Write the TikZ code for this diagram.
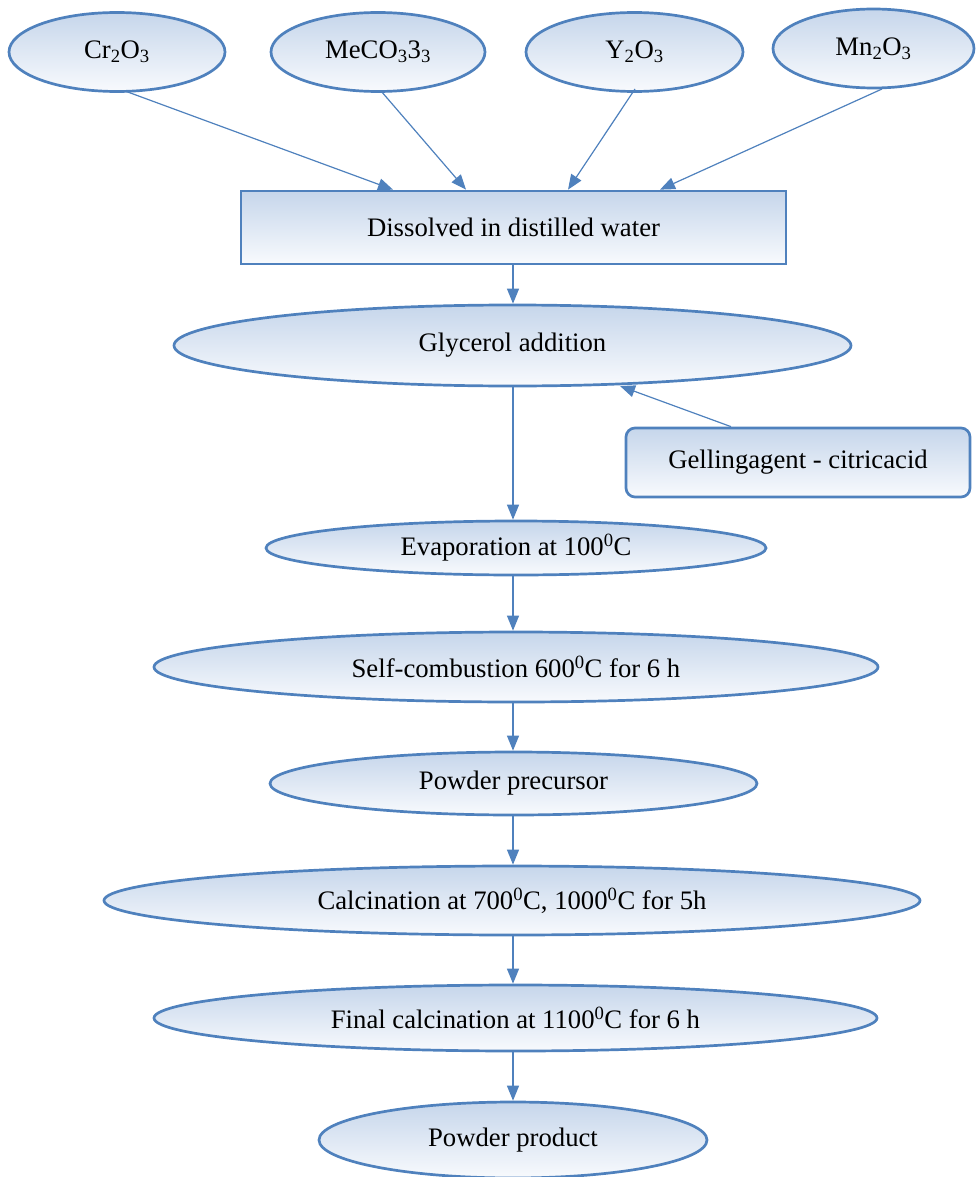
\documentclass[tikz,border=0pt]{standalone}
\usepackage{fontspec}
\setmainfont{Liberation Serif}
\usetikzlibrary{shapes.geometric,arrows.meta,calc}
\definecolor{edgeblue}{HTML}{4F81BD}
\definecolor{topfill}{HTML}{C6D6EB}
\definecolor{botfill}{HTML}{F8FAFD}
\tikzset{
  base/.style={draw=edgeblue, line width=2.7pt, top color=topfill, bottom color=botfill,
    inner sep=0pt, font=\fontsize{26.7}{30}\selectfont},
  oval/.style={base, ellipse},
  box/.style={base, rectangle},
  rbox/.style={base, rectangle, rounded corners=9pt},
  arr/.style={draw=edgeblue, line width=1.2pt, -{Triangle[length=15pt,width=12pt]}}
}
\begin{document}
\begin{tikzpicture}[x=1pt,y=-1pt]
\useasboundingbox (0,0) rectangle (975,1177);
% sources
\node[oval, minimum width=216pt, minimum height=79pt] (cr) at (117,52) {Cr\textsubscript{2}O\textsubscript{3}};
\node[oval, minimum width=214pt, minimum height=79pt] (me) at (378,52) {MeCO\textsubscript{3}3\textsubscript{3}};
\node[oval, minimum width=217pt, minimum height=79pt] (yo) at (634.5,52) {Y\textsubscript{2}O\textsubscript{3}};
\node[oval, minimum width=201pt, minimum height=79pt] (mn) at (873.5,48.5) {Mn\textsubscript{2}O\textsubscript{3}};
% main chain
\node[box, minimum width=545pt, minimum height=73pt] (dis) at (513.5,227.5) {Dissolved in distilled water};
\node[oval, minimum width=677pt, minimum height=81pt] (gly) at (512.5,345.5) {Glycerol addition};
\node[rbox, minimum width=344pt, minimum height=69pt] (gel) at (798,462.5) {Gellingagent - citricacid};
\node[oval, minimum width=500pt, minimum height=54pt] (eva) at (516,548) {Evaporation at 100\textsuperscript{0}C};
\node[oval, minimum width=724pt, minimum height=70pt] (sel) at (516,667) {Self-combustion 600\textsuperscript{0}C for 6 h};
\node[oval, minimum width=487pt, minimum height=63pt] (pre) at (513.5,783.5) {Powder precursor};
\node[oval, minimum width=816pt, minimum height=69pt] (cal) at (512,900.5) {Calcination at 700\textsuperscript{0}C, 1000\textsuperscript{0}C for 5h};
\node[oval, minimum width=723pt, minimum height=66pt] (fin) at (515.5,1018) {Final calcination at 1100\textsuperscript{0}C for 6 h};
\node[oval, minimum width=388pt, minimum height=76pt] (pro) at (513,1140) {Powder product};
% helper coordinates
\coordinate (crs) at (125,91);
\coordinate (mes) at (381,91);
\coordinate (yos) at (635,89);
\coordinate (mns) at (882,89);
\coordinate (gtip) at (620,386);
% arrows from sources
\draw[arr] (crs) -- (393,0 |- dis.north);
\draw[arr] (mes) -- (466,0 |- dis.north);
\draw[arr] (yos) -- (568,0 |- dis.north);
\draw[arr] (mns) -- (660,0 |- dis.north);
% chain arrows
\draw[arr] (dis.south -| 513,0) -- (513,0 |- gly.north);
\draw[arr] (731,0 |- gel.north) -- (gtip);
\draw[arr] (513,0 |- gly.south) -- (513,0 |- eva.north);
\draw[arr] (513,0 |- eva.south) -- (513,0 |- sel.north);
\draw[arr] (513,0 |- sel.south) -- (513,0 |- pre.north);
\draw[arr] (513,0 |- pre.south) -- (513,0 |- cal.north);
\draw[arr] (513,0 |- cal.south) -- (513,0 |- fin.north);
\draw[arr] (513,0 |- fin.south) -- (513,0 |- pro.north);
\end{tikzpicture}
\end{document}
